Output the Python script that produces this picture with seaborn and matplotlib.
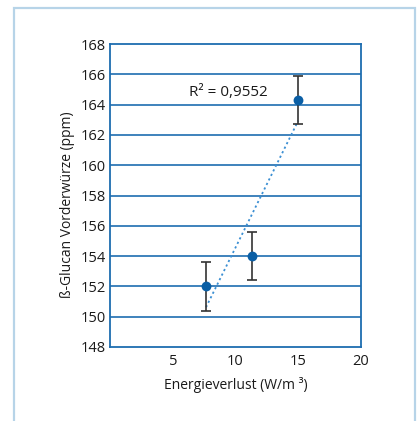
import matplotlib
matplotlib.use("Agg")
import matplotlib.pyplot as plt
from matplotlib.patches import Rectangle
import seaborn as sns
import numpy as np
import pandas as pd

# Measurements: energy dissipation vs. beta-glucan in first wort
energy = [7.65, 11.3, 15.0]
glucan = [152.0, 154.0, 164.3]
err_low = [1.6, 1.6, 1.6]
err_high = [1.6, 1.6, 1.6]
r2_label = "R² = 0,9552"
x_ticks = [5, 10, 15, 20]
y_ticks = list(range(148, 169, 2))

df = pd.DataFrame({"energy": energy, "glucan": glucan})

sns.set_theme(style="white")
plt.rcParams["font.family"] = ["Open Sans", "DejaVu Sans"]

BLUE = "#1e6db0"
POINT = "#0b5fa5"
FRAME = "#b7d4e8"

fig = plt.figure(figsize=(4.17, 4.21), dpi=100)
fig.patch.set_facecolor("white")

# light outer frame
fig.patches.append(Rectangle((14 / 417, -0.05), (415 - 14) / 417, 1 - 8 / 421 + 0.05,
                             transform=fig.transFigure, fill=False,
                             edgecolor=FRAME, linewidth=1.6))

ax = fig.add_axes([110 / 417, 1 - 347 / 421, (361 - 110) / 417, (347 - 44) / 421])

ax.set_xlim(0, 20)
ax.set_ylim(148, 168)
ax.set_xticks(x_ticks)
ax.set_yticks(y_ticks)

for yv in y_ticks[1:-1]:
    ax.axhline(yv, color=BLUE, linewidth=1.2, zorder=1)

# linear trend
sns.regplot(data=df, x="energy", y="glucan", ax=ax, ci=None, scatter=False,
            line_kws=dict(color="#3b8fd3", linestyle=(0, (1.2, 1.6)), linewidth=1.3, zorder=2))

ax.errorbar(energy, glucan, yerr=[err_low, err_high], fmt="none",
            ecolor="#333333", elinewidth=1.2, capsize=3.8, capthick=1.2, zorder=3)
sns.scatterplot(data=df, x="energy", y="glucan", ax=ax, color=POINT, s=50,
                edgecolor=POINT, linewidth=0, zorder=4)

ax.text(9.4, 164.8, r2_label, ha="center", va="center", fontsize=11, color="#1a1a1a")

for side in ["left", "right", "top", "bottom"]:
    ax.spines[side].set_visible(True)
    ax.spines[side].set_color(BLUE)
    ax.spines[side].set_linewidth(1.3)

ax.tick_params(axis="both", length=0, labelsize=10.5, colors="#1a1a1a")
ax.tick_params(axis="y", pad=3)
ax.tick_params(axis="x", pad=5)
ax.set_xlabel("Energieverlust (W/m ³)", fontsize=10, color="#1a1a1a", labelpad=6)
ax.set_ylabel("ß-Glucan Vorderwürze (ppm)", fontsize=10, color="#1a1a1a")
ax.yaxis.set_label_coords(-0.14, 0.47)
ax.set_facecolor("white")

fig.savefig("out.png", dpi=100)
